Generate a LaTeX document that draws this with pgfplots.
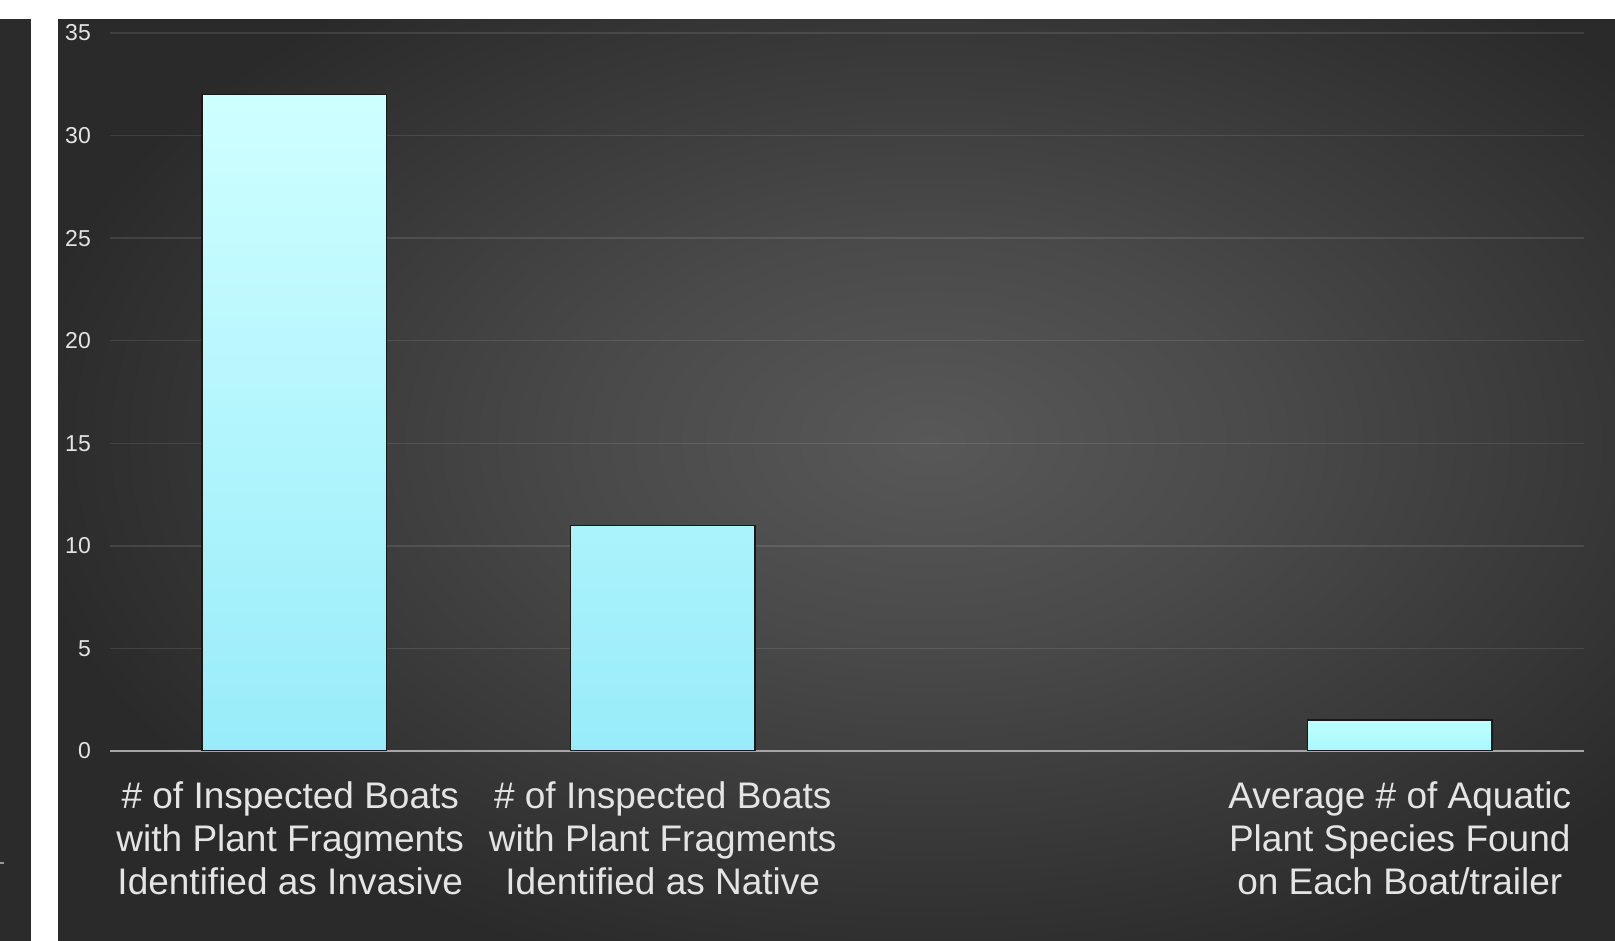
\documentclass[border=0pt]{standalone}
\usepackage{fontspec}
\setmainfont{Liberation Sans}
\usepackage{pgfplots}
\pgfplotsset{compat=1.18}
\definecolor{bgouter}{HTML}{2A2A2A}
\definecolor{bgmid}{HTML}{4A4A4A}
\definecolor{bginner}{HTML}{585858}
\definecolor{strip}{HTML}{2B2B2B}
\definecolor{bartop}{HTML}{CFFFFF}
\definecolor{barbot}{HTML}{98ECFA}
\definecolor{barsmalltop}{HTML}{BFFFFF}
\definecolor{barsmallbot}{HTML}{A8F8FF}
\definecolor{lbl}{HTML}{E4E4E4}
\definecolor{axisgray}{HTML}{A6A6A6}
\pgfdeclareradialshading{bgshade}{\pgfpoint{0bp}{0bp}}{color(0bp)=(bginner); color(9bp)=(bgmid); color(25bp)=(bgouter); color(50bp)=(bgouter)}
\begin{document}
\begin{tikzpicture}[x=1pt,y=1pt]
\path[use as bounding box, fill=white] (0,0) rectangle (1615,941);
\fill[strip] (0,0) rectangle (31,922);
\draw[gray!80, line width=1.5pt] (0,78) -- (4,78);
\begin{scope}
\clip (58,0) rectangle (1615,922);
\fill[bgouter] (58,0) rectangle (1615,922);
\shade[shading=bgshade] (930,500) ellipse [x radius=920, y radius=560];
\end{scope}
\fill[white] (31,922) rectangle (1615,941);
\begin{axis}[
  at={(110pt,190pt)}, anchor=south west,
  scale only axis, width=1474pt, height=718pt,
  xmin=-0.5, xmax=3.5, ymin=0, ymax=35,
  xtick={0,1,2,3},
  xticklabels={{\hspace*{-8pt}\# of Inspected Boats\\\hspace*{-8pt}with Plant Fragments\\\hspace*{-8pt}Identified as Invasive},
               {\# of Inspected Boats\\with Plant Fragments\\Identified as Native},
               {},
               {Average \# of Aquatic\\Plant Species Found\\on Each Boat/trailer}},
  ytick={5,10,...,35},
  extra y ticks={0},
  extra y tick style={grid style={color=axisgray, line width=2.5pt, opacity=1}},
  major tick length=0pt,
  axis line style={draw=none},
  ymajorgrids,
  grid style={white, opacity=0.1, line width=1.5pt},
  /pgf/number format/assume math mode=true,
  yticklabel style={font=\fontsize{23}{23}\selectfont, text=lbl, inner sep=0pt, xshift=-19pt},
  xticklabel style={font=\fontsize{37}{43}\selectfont, text=lbl, align=center, inner sep=0pt, yshift=-30pt},
]
\addplot[ybar, bar width=0.5, bar shift=0pt, draw=black!90, line width=1.5pt, top color=bartop, bottom color=barbot]
  coordinates {(0,32) (1,11)};
\addplot[ybar, bar width=0.5, bar shift=0pt, draw=black!90, line width=1.5pt, top color=barsmalltop, bottom color=barsmallbot]
  coordinates {(3,1.5)};
\end{axis}
\end{tikzpicture}
\end{document}
